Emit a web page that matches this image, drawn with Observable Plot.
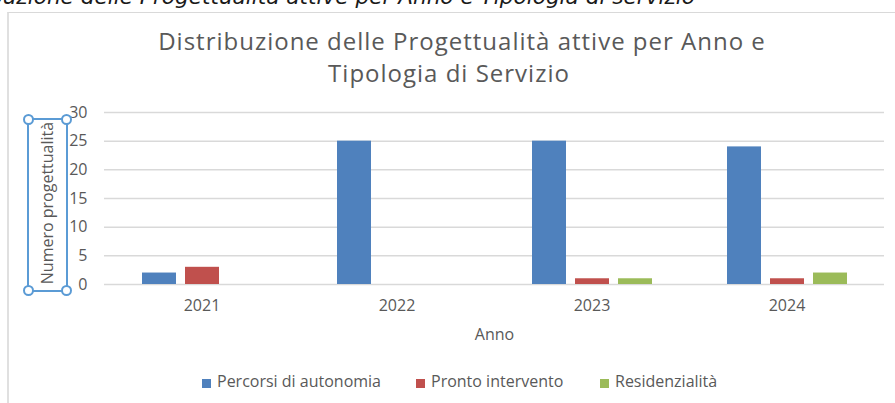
<!DOCTYPE html>
<html>
<head>
<meta charset="utf-8">
<script src="https://cdn.jsdelivr.net/npm/d3@7"></script>
<script src="https://cdn.jsdelivr.net/npm/@observablehq/plot@0.6"></script>
<style>
  html, body { margin: 0; padding: 0; background: #fff; }
  #wrap { position: relative; width: 895px; height: 403px; overflow: hidden; background: #fff; font-family: "Open Sans", sans-serif; }
  #toptext { position: absolute; right: 200px; top: -13px; white-space: nowrap; font: italic 21.6px/20px "DejaVu Sans", sans-serif; color: #1a1a1a; }
  #frame { position: absolute; left: 7px; top: 12px; right: -2px; bottom: -2px; border-left: 2px solid #e0e0e0; border-top: 1px solid #d9d9d9; }
  .tline { position: absolute; white-space: nowrap; transform: translateX(-50%); font-size: 24px; letter-spacing: 1px; line-height: 31px; color: #595959; }
  #plot { position: absolute; left: 0; top: 0; }
  #ytitle { position: absolute; left: 47px; top: 203px; transform: translate(-50%, -50%) rotate(-90deg); white-space: nowrap; font-size: 16px; color: #595959; }
  #selbox { position: absolute; left: 28px; top: 119px; width: 37px; height: 170px; border: 2px solid #5b9bd5; box-sizing: content-box; margin: -1px 0 0 -1px; }
  .handle { position: absolute; width: 7px; height: 7px; border-radius: 50%; border: 2px solid #5b9bd5; background: #fff; }
  #legend { position: absolute; top: 371px; left: 0; width: 895px; height: 22px; font-size: 16px; color: #595959; }
  .item { position: absolute; top: 0; white-space: nowrap; line-height: 20px; }
  .sw { display: inline-block; width: 9px; height: 9px; margin-right: 6px; vertical-align: -1px; }
</style>
</head>
<body>
<div id="wrap">
  <div id="toptext"></div>
  <div id="frame"></div>
  <div id="title"></div>
  <div id="plot"></div>
  <div id="selbox"></div>
  <div id="ytitle"></div>
  <div id="legend"></div>
</div>
<script>
// ---- data ----
const years = ["2021", "2022", "2023", "2024"];
const seriesNames = ["Percorsi di autonomia", "Pronto intervento", "Residenzialità"];
const percorsi = [2, 25, 25, 24];
const pronto = [3, 0, 1, 1];
const residenzialita = [0, 0, 1, 2];
const yTicks = [0, 5, 10, 15, 20, 25, 30];
const colors = ["#4f81bd", "#c0504d", "#9bbb59"];
const chartTitle = ["Distribuzione delle Progettualità attive per Anno e", "Tipologia di Servizio"];
const captionText = "Distribuzione delle Progettualità attive per Anno e Tipologia di servizio";
const xLabel = "Anno";
const yLabel = "Numero progettualità";

// ---- table ----
const seriesValues = [percorsi, pronto, residenzialita];
const data = [];
years.forEach((yr, i) => {
  seriesNames.forEach((s, j) => {
    data.push({year: yr, series: s, value: seriesValues[j][i]});
  });
});

// ---- texts ----
const wrap = document.getElementById("wrap");
document.getElementById("toptext").textContent = captionText;
const titleCenters = [462, 449];
const titleTops = [25, 57];
chartTitle.forEach((t, i) => {
  const d = document.createElement("div");
  d.className = "tline";
  d.style.left = titleCenters[i] + "px";
  d.style.top = titleTops[i] + "px";
  d.textContent = t;
  document.getElementById("title").appendChild(d);
});
document.getElementById("ytitle").textContent = yLabel;

// selection handles
const sb = {l: 28, t: 119, r: 66, b: 290};
[[sb.l, sb.t], [sb.r, sb.t], [sb.l, sb.b], [sb.r, sb.b]].forEach(([x, y]) => {
  const h = document.createElement("div");
  h.className = "handle";
  h.style.left = (x - 5.5) + "px";
  h.style.top = (y - 5.5) + "px";
  wrap.appendChild(h);
});

// ---- chart ----
const chart = Plot.plot({
  width: 895,
  height: 345,
  marginTop: 112,
  marginBottom: 61,
  marginLeft: 103,
  marginRight: 10,
  style: {fontFamily: "Open Sans, sans-serif", fontSize: "16px", color: "#595959", background: "transparent"},
  fx: {domain: years, padding: 0},
  x: {domain: seriesNames, paddingInner: 0.21, paddingOuter: 0.87, axis: null},
  y: {domain: [0, 30], axis: null},
  color: {domain: seriesNames, range: colors},
  marks: [
    Plot.gridY({ticks: yTicks, stroke: "#d9d9d9", strokeOpacity: 1, strokeWidth: 1.5}),
    Plot.barY(data.filter(d => d.value > 0), {fx: "year", x: "series", y: "value", fill: "series"}),
    Plot.axisY({ticks: yTicks, tickSize: 0, tickPadding: 17, label: null, fill: "#595959"}),
    Plot.axisFx({anchor: "bottom", tickSize: 0, tickPadding: 15, label: xLabel, labelAnchor: "center", labelOffset: 55, fill: "#595959"})
  ]
});
document.getElementById("plot").appendChild(chart);

// ---- legend ----
const legendPos = [202, 416, 600];
const legend = document.getElementById("legend");
seriesNames.forEach((s, i) => {
  const it = document.createElement("div");
  it.className = "item";
  it.style.left = legendPos[i] + "px";
  it.innerHTML = `<span class="sw" style="background:${colors[i]}"></span>${s}`;
  legend.appendChild(it);
});
</script>
</body>
</html>
